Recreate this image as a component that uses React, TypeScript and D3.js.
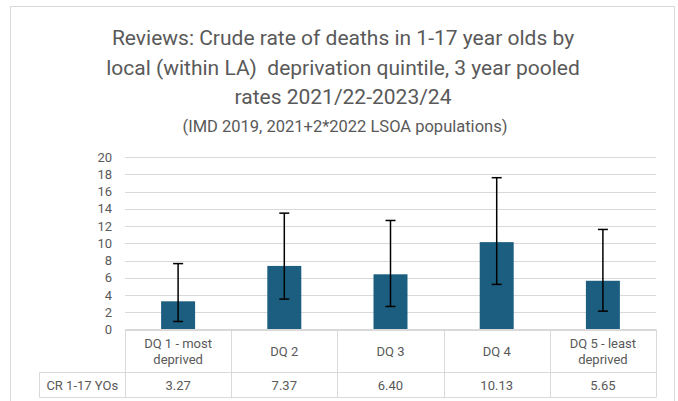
import React from "react";
import * as d3 from "d3";

const categories: string[][] = [
  ["DQ 1 - most", "deprived"],
  ["DQ 2"],
  ["DQ 3"],
  ["DQ 4"],
  ["DQ 5 - least", "deprived"],
];
const rates: number[] = [3.27, 7.37, 6.4, 10.13, 5.65];
const lowerCI: number[] = [0.93, 3.53, 2.67, 5.23, 2.13];
const upperCI: number[] = [7.64, 13.49, 12.64, 17.6, 11.6];
const yTicks: number[] = [0, 2, 4, 6, 8, 10, 12, 14, 16, 18, 20];
const rowHeader = "CR 1-17 YOs";
const titleLines: string[] = [
  "Reviews: Crude rate of deaths in 1-17 year olds by",
  "local (within LA)  deprivation quintile, 3 year pooled",
  "rates 2021/22-2023/24",
];
const subtitle = "(IMD 2019, 2021+2*2022 LSOA populations)";

const W = 678;
const H = 401;
const FONT = "Roboto, 'Noto Sans', sans-serif";
const TXT = "#595959";
const GRID = "#d9d9d9";
const BAR = "#1b5e7f";

export default function App() {
  const plotL = 125;
  const plotR = 656;
  const plotT = 157;
  const plotB = 329.5;
  const row1B = 372.5;
  const row2B = 397.5;
  const tableL = 39.5;

  const idx = categories.map((_, i) => String(i));
  const x = d3.scaleBand<string>().domain(idx).range([plotL, plotR]).paddingInner(0).paddingOuter(0);
  const y = d3.scaleLinear().domain([0, 20]).range([plotB, plotT]);
  const bw = x.bandwidth() * 0.32;
  const cap = 5;

  return (
    <svg width={W} height={H} style={{ display: "block", position: "absolute", left: 0, top: 0 }}>
      <rect x={0} y={0} width={W} height={H} fill="#fff" />
      <rect x={10.5} y={6.5} width={664} height={H} fill="#fff" stroke={GRID} strokeWidth={1} />
      {/* title */}
      <g fontFamily={FONT} fill={TXT} textAnchor="middle">
        {titleLines.map((t, i) => (
          <text key={i} x={343} y={45 + i * 29.5} fontSize={21} xmlSpace="preserve" style={{ whiteSpace: "pre" }}>
            {t}
          </text>
        ))}
        <text x={345} y={131.5} fontSize={16.5}>
          {subtitle}
        </text>
      </g>
      {/* gridlines */}
      {yTicks.map((t) => (
        <line
          key={t}
          x1={plotL}
          x2={plotR}
          y1={Math.round(y(t)) + 0.5}
          y2={Math.round(y(t)) + 0.5}
          stroke={GRID}
          strokeWidth={1}
        />
      ))}
      {/* y tick labels */}
      <g fontFamily={FONT} fill={TXT} fontSize={13} textAnchor="end">
        {yTicks.map((t) => (
          <text key={t} x={112} y={y(t) + 4.5}>
            {t}
          </text>
        ))}
      </g>
      {/* bars */}
      {rates.map((v, i) => {
        const cx = (x(String(i)) as number) + x.bandwidth() / 2;
        return (
          <rect key={i} x={cx - bw / 2} y={y(v)} width={bw} height={plotB - y(v)} fill={BAR} />
        );
      })}
      {/* error bars */}
      {rates.map((_, i) => {
        const cx = (x(String(i)) as number) + x.bandwidth() / 2;
        return (
          <g key={i} stroke="#000" strokeWidth={1.5}>
            <line x1={cx} x2={cx} y1={y(upperCI[i])} y2={y(lowerCI[i])} />
            <line x1={cx - cap} x2={cx + cap} y1={y(upperCI[i])} y2={y(upperCI[i])} />
            <line x1={cx - cap} x2={cx + cap} y1={y(lowerCI[i])} y2={y(lowerCI[i])} />
          </g>
        );
      })}
      {/* data table */}
      <g stroke={GRID} strokeWidth={1}>
        <line x1={plotL} x2={plotR} y1={plotB} y2={plotB} />
        <line x1={tableL} x2={plotR} y1={row1B} y2={row1B} />
        <line x1={tableL} x2={plotR} y1={row2B} y2={row2B} />
        <line x1={tableL} x2={tableL} y1={row1B} y2={row2B} />
        {idx.map((d) => (
          <line
            key={d}
            x1={Math.round(x(d) as number) + 0.5}
            x2={Math.round(x(d) as number) + 0.5}
            y1={plotB}
            y2={row2B}
          />
        ))}
        <line x1={plotR + 0.5} x2={plotR + 0.5} y1={plotB} y2={row2B} />
      </g>
      <g fontFamily={FONT} fill={TXT} fontSize={13} textAnchor="middle">
        {categories.map((lines, i) => {
          const cx = (x(String(i)) as number) + x.bandwidth() / 2;
          const mid = (plotB + row1B) / 2;
          return lines.map((l, j) => (
            <text key={i + "-" + j} x={cx} y={mid + 4.5 + (j - (lines.length - 1) / 2) * 16}>
              {l}
            </text>
          ));
        })}
        {rates.map((v, i) => {
          const cx = (x(String(i)) as number) + x.bandwidth() / 2;
          return (
            <text key={"v" + i} x={cx} y={(row1B + row2B) / 2 + 4.5}>
              {v.toFixed(2)}
            </text>
          );
        })}
        <text x={(tableL + plotL) / 2} y={(row1B + row2B) / 2 + 4.5}>
          {rowHeader}
        </text>
      </g>
    </svg>
  );
}
